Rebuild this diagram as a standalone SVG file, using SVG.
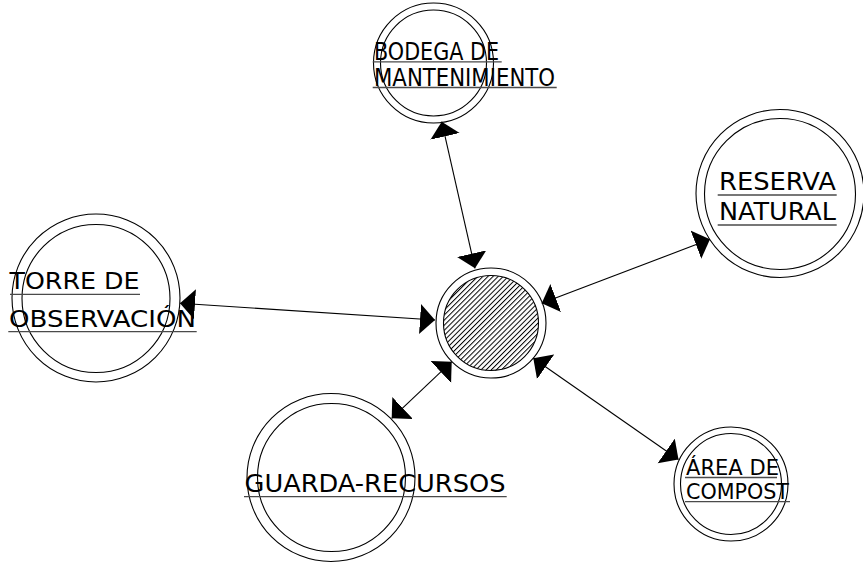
<svg xmlns="http://www.w3.org/2000/svg" width="863" height="563" viewBox="0 0 863 563">
  <style>
    .ring { fill: none; stroke: #000; stroke-width: 1.1; }
    .lbl { font-family: "DejaVu Sans", Verdana, sans-serif; fill: #000; }
    .ul { stroke: #4a4a4a; stroke-width: 1.3; }
    .conn { stroke: #000; stroke-width: 1.1; fill: none; marker-start: url(#ah); marker-end: url(#ah); }
  </style>
  <defs>
    <pattern id="hatch" patternUnits="userSpaceOnUse" width="3.6" height="10" patternTransform="rotate(45)">
      <line x1="0.5" y1="0" x2="0.5" y2="10" stroke="#000" stroke-width="1"/>
    </pattern>
    <marker id="ah" markerUnits="userSpaceOnUse" markerWidth="16" markerHeight="31" refX="15" refY="15" orient="auto-start-reverse" viewBox="0 0 16 31">
      <path d="M0,0 L15,15 L0,30 Z" fill="#000"/>
    </marker>
  </defs>
  <rect width="863" height="563" fill="#fff"/>

  <g id="connectors">
    <line class="conn" x1="441.7" y1="121.7" x2="475" y2="268.3"/>
    <line class="conn" x1="180" y1="303.3" x2="435" y2="320"/>
    <line class="conn" x1="710" y1="239.3" x2="541.7" y2="303.3"/>
    <line class="conn" x1="391.7" y1="418.3" x2="451.7" y2="361.7"/>
    <line class="conn" x1="678.5" y1="459.5" x2="533.3" y2="358.3"/>
  </g>

  <g id="hub">
    <circle class="ring" cx="491" cy="323" r="55"/>
    <circle cx="491" cy="323" r="47.5" fill="url(#hatch)" stroke="#000" stroke-width="1.1"/>
  </g>

  <g id="bodega">
    <circle class="ring" cx="433.5" cy="63" r="60"/>
    <circle class="ring" cx="433.5" cy="63" r="53"/>
    <text class="lbl" x="374" y="59.5" font-size="24" textLength="125" lengthAdjust="spacingAndGlyphs">BODEGA DE</text>
    <text class="lbl" x="374" y="85.5" font-size="24" textLength="181" lengthAdjust="spacingAndGlyphs">MANTENIMIENTO</text>
    <line class="ul" x1="372.7" y1="61.8" x2="501.7" y2="61.8"/>
    <line class="ul" x1="372.7" y1="87.5" x2="556.7" y2="87.5"/>
  </g>

  <g id="torre">
    <circle class="ring" cx="96" cy="298" r="84"/>
    <circle class="ring" cx="96" cy="298.5" r="74"/>
    <text class="lbl" x="9.5" y="288.5" font-size="23.5" textLength="130" lengthAdjust="spacingAndGlyphs">TORRE DE</text>
    <text class="lbl" x="9" y="326.5" font-size="23.5" textLength="187" lengthAdjust="spacingAndGlyphs">OBSERVACIÓN</text>
    <line class="ul" x1="10" y1="294.3" x2="140" y2="294.3"/>
    <line class="ul" x1="8.3" y1="331.7" x2="196.7" y2="331.7"/>
  </g>

  <g id="reserva">
    <circle class="ring" cx="780" cy="193.5" r="84"/>
    <circle class="ring" cx="780" cy="194" r="75.5"/>
    <text class="lbl" x="719" y="190" font-size="25.5" textLength="117" lengthAdjust="spacingAndGlyphs">RESERVA</text>
    <text class="lbl" x="719" y="220" font-size="25.5" textLength="117" lengthAdjust="spacingAndGlyphs">NATURAL</text>
    <line class="ul" x1="717.7" y1="195" x2="836.7" y2="195"/>
    <line class="ul" x1="717.7" y1="225" x2="836.7" y2="225"/>
  </g>

  <g id="guarda">
    <circle class="ring" cx="331" cy="477.5" r="84"/>
    <circle class="ring" cx="331.5" cy="477.5" r="74"/>
    <text class="lbl" x="244.5" y="491.5" font-size="25" textLength="261" lengthAdjust="spacingAndGlyphs">GUARDA-RECURSOS</text>
    <line class="ul" x1="244" y1="496.7" x2="506.7" y2="496.7"/>
  </g>

  <g id="compost">
    <circle class="ring" cx="731" cy="484" r="57"/>
    <circle class="ring" cx="731" cy="484" r="50.5"/>
    <text class="lbl" x="686" y="475" font-size="21.5" textLength="93" lengthAdjust="spacingAndGlyphs">ÁREA DE</text>
    <text class="lbl" x="686" y="498.5" font-size="21.5" textLength="103" lengthAdjust="spacingAndGlyphs">COMPOST</text>
    <line class="ul" x1="685" y1="477.5" x2="777" y2="477.5"/>
    <line class="ul" x1="685" y1="501.7" x2="790" y2="501.7"/>
  </g>
</svg>
